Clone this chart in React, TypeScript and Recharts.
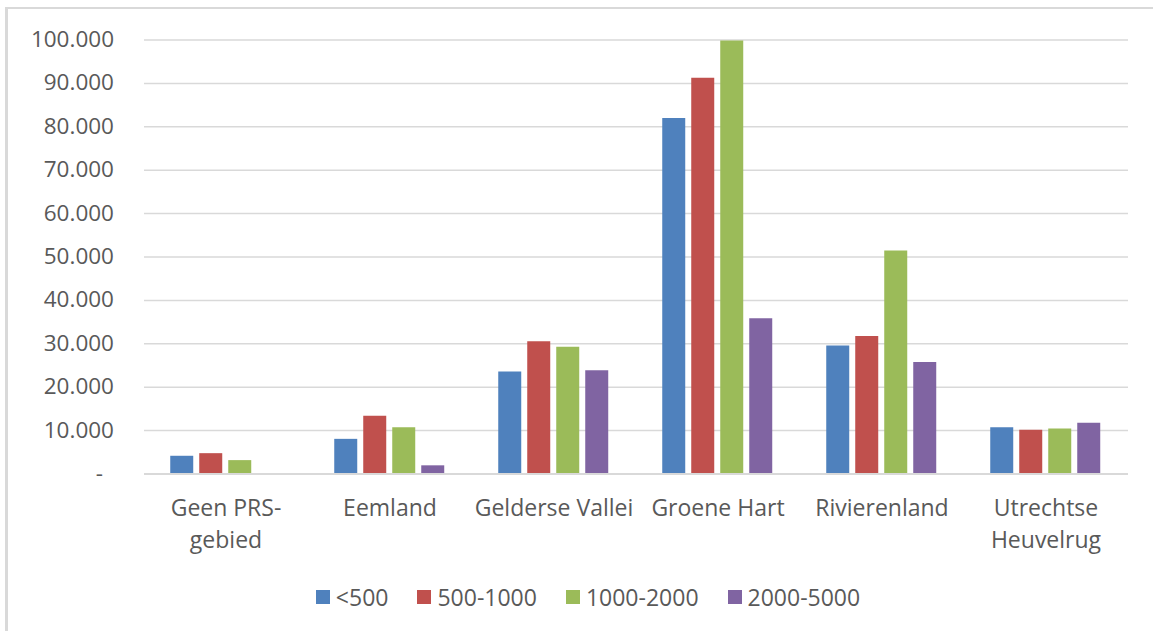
import React from "react";
import { BarChart, Bar, XAxis, YAxis, CartesianGrid, Legend } from "recharts";

const categories = ["Geen PRS-\ngebied", "Eemland", "Gelderse Vallei", "Groene Hart", "Rivierenland", "Utrechtse\nHeuvelrug"];
const seriesNames = ["<500", "500-1000", "1000-2000", "2000-5000"];
const lt500 = [4200, 8100, 23600, 82000, 29600, 10800];
const s500to1000 = [4800, 13400, 30600, 91300, 31800, 10200];
const s1000to2000 = [3200, 10800, 29300, 99900, 51500, 10500];
const s2000to5000 = [0, 2000, 23900, 35900, 25800, 11800];
const yTicks = [0, 10000, 20000, 30000, 40000, 50000, 60000, 70000, 80000, 90000, 100000];

const COLORS = ["#4F81BD", "#C0504D", "#9BBB59", "#8064A2"];
const TEXT = "#595959";
const FONT = "'Open Sans', sans-serif";

const data = categories.map((name, i) => ({
  name,
  s0: lt500[i],
  s1: s500to1000[i],
  s2: s1000to2000[i],
  s3: s2000to5000[i],
}));

const fmt = (v: number) => String(v).replace(/\B(?=(\d{3})+(?!\d))/g, ".");

function YTick(props: any) {
  const { y, payload } = props;
  const zero = payload.value === 0;
  return (
    <text x={zero ? 103 : 114} y={y} dy={7} textAnchor="end" fill={TEXT} fontSize={22.5} fontFamily={FONT}>
      {zero ? "-" : fmt(payload.value)}
    </text>
  );
}

function XTick(props: any) {
  const { x, y, payload } = props;
  const lines = String(payload.value).split("\n");
  return (
    <text x={x} y={y} textAnchor="middle" fill={TEXT} fontSize={23} fontFamily={FONT}>
      {lines.map((l, i) => (
        <tspan key={i} x={x} dy={i === 0 ? 34 : 32}>
          {l}
        </tspan>
      ))}
    </text>
  );
}

function LegendContent() {
  return (
    <div
      style={{
        height: 40,
        paddingLeft: 48,
        display: "flex",
        justifyContent: "center",
        alignItems: "center",
        fontFamily: FONT,
        fontSize: 23,
        color: TEXT,
      }}
    >
      {seriesNames.map((n, i) => (
        <div key={n} style={{ display: "flex", alignItems: "center", marginRight: i < seriesNames.length - 1 ? 29 : 0 }}>
          <div style={{ width: 14, height: 14, background: COLORS[i], marginRight: 6 }} />
          <span>{n}</span>
        </div>
      ))}
    </div>
  );
}

export default function App() {
  return (
    <div style={{ position: "absolute", left: 0, top: 0, width: 1153, height: 631, background: "#fff" }}>
      <div
        style={{
          position: "absolute",
          left: 5,
          top: 7,
          right: 0,
          bottom: 0,
          borderLeft: "3px solid #d9d9d9",
          borderTop: "2px solid #d9d9d9",
        }}
      />
      <div style={{ position: "absolute", left: 0, top: 0 }}>
        <BarChart
          width={1153}
          height={631}
          data={data}
          margin={{ top: 40, right: 25, bottom: 14, left: 0 }}
          barCategoryGap="16%"
          barGap={6}
        >
          <CartesianGrid vertical={false} stroke="#d9d9d9" strokeWidth={1.5} />
          <XAxis
            dataKey="name"
            interval={0}
            height={103}
            tickLine={false}
            axisLine={{ stroke: "#d9d9d9", strokeWidth: 2 }}
            tick={<XTick />}
          />
          <YAxis
            width={144}
            domain={[0, 100000]}
            ticks={yTicks}
            tickLine={false}
            axisLine={false}
            tick={<YTick />}
          />
          <Legend verticalAlign="bottom" content={<LegendContent />} />
          <Bar dataKey="s0" name={seriesNames[0]} fill={COLORS[0]} isAnimationActive={false} />
          <Bar dataKey="s1" name={seriesNames[1]} fill={COLORS[1]} isAnimationActive={false} />
          <Bar dataKey="s2" name={seriesNames[2]} fill={COLORS[2]} isAnimationActive={false} />
          <Bar dataKey="s3" name={seriesNames[3]} fill={COLORS[3]} isAnimationActive={false} />
        </BarChart>
      </div>
    </div>
  );
}
